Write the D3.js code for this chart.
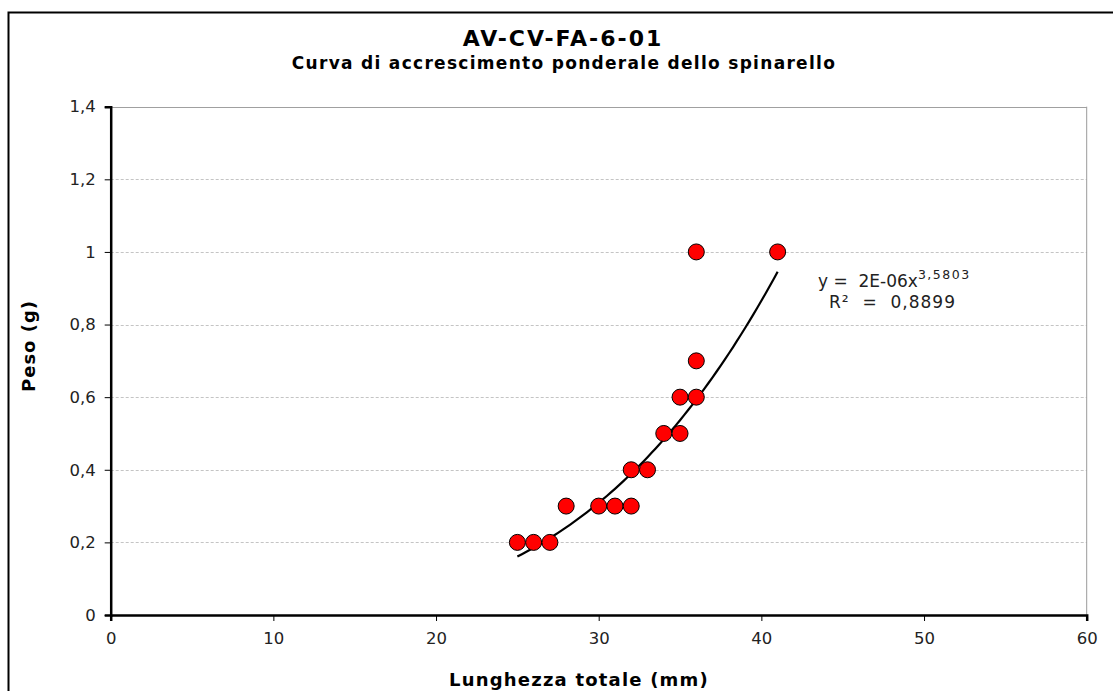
<!DOCTYPE html>
<html>
<head>
<meta charset="utf-8">
<script src="https://cdn.jsdelivr.net/npm/d3@7"></script>
<style>
  body { margin: 0; background: #fff; }
  svg { display: block; font-family: "DejaVu Sans", Verdana, sans-serif; }
</style>
</head>
<body>
<svg width="1113" height="691"></svg>
<script>
// lunghezza totale (mm) e peso (g) dei pesci misurati
const lunghezza = [25, 26, 27, 28, 30, 31, 32, 32, 33, 34, 35, 35, 36, 36, 36, 41];
const peso      = [0.2, 0.2, 0.2, 0.3, 0.3, 0.3, 0.3, 0.4, 0.4, 0.5, 0.5, 0.6, 0.6, 0.7, 1.0, 1.0];
const xTicks = [0, 10, 20, 30, 40, 50, 60];
const yTicks = [0, 0.2, 0.4, 0.6, 0.8, 1, 1.2, 1.4];
// linea di tendenza di tipo potenza (coefficiente non arrotondato)
const trendA = 1.59e-6, trendB = 3.5803;
const trendRange = [25, 41];

const svg = d3.select("svg");
const m = { left: 110.7, right: 1086.7, top: 106.7, bottom: 615 };

const x = d3.scaleLinear().domain([0, 60]).range([m.left, m.right]);
const y = d3.scaleLinear().domain([0, 1.4]).range([m.bottom, m.top]);
const fmt = d => String(d).replace(".", ",");

// cornice esterna (tagliata a destra e in basso)
svg.append("rect")
  .attr("x", 8.5).attr("y", 12.5)
  .attr("width", 1200).attr("height", 800)
  .attr("fill", "none").attr("stroke", "#000").attr("stroke-width", 2);

// griglia
svg.append("g").selectAll("line")
  .data(yTicks.filter(d => d > 0))
  .join("line")
  .attr("x1", m.left).attr("x2", m.right)
  .attr("y1", d => Math.round(y(d)) + 0.5).attr("y2", d => Math.round(y(d)) + 0.5)
  .attr("stroke", d => d === 1.4 ? "#a0a0a0" : "#c4c4c4")
  .attr("stroke-dasharray", d => d === 1.4 ? null : "3,2");
svg.append("line")
  .attr("x1", m.right).attr("x2", m.right)
  .attr("y1", m.top).attr("y2", m.bottom)
  .attr("stroke", "#9a9a9a");

// assi
const yAxis = svg.append("g")
  .attr("transform", `translate(${m.left},0)`)
  .call(d3.axisLeft(y).tickValues(yTicks).tickFormat(fmt).tickSize(6).tickPadding(9));
const xAxis = svg.append("g")
  .attr("transform", `translate(0,${m.bottom})`)
  .call(d3.axisBottom(x).tickValues(xTicks).tickSize(6).tickPadding(11));
[yAxis, xAxis].forEach(a => {
  a.attr("font-size", 16.5).attr("font-family", "DejaVu Sans, Verdana, sans-serif");
  a.select(".domain").attr("stroke-width", 2.5);
  a.selectAll("text").attr("fill", "#222");
});

// curva di tendenza
const curve = d3.range(trendRange[0], trendRange[1] + 0.01, 0.25);
svg.append("path")
  .datum(curve)
  .attr("fill", "none").attr("stroke", "#000").attr("stroke-width", 2.2)
  .attr("d", d3.line().x(d => x(d)).y(d => y(trendA * Math.pow(d, trendB))));

// punti
svg.append("g").selectAll("circle")
  .data(lunghezza.map((l, i) => [l, peso[i]]))
  .join("circle")
  .attr("cx", d => x(d[0])).attr("cy", d => y(d[1]))
  .attr("r", 8)
  .attr("fill", "#ff0000").attr("stroke", "#000").attr("stroke-width", 1);

// equazione
const eq = svg.append("text").attr("x", 818).attr("y", 287).attr("font-size", 17)
  .attr("fill", "#222").attr("xml:space", "preserve");
eq.append("tspan").text("y =  2E-06x");
eq.append("tspan").attr("dy", -8).attr("font-size", 12.5).attr("letter-spacing", 1.5).text("3,5803");
svg.append("text").attr("x", 829).attr("y", 308).attr("font-size", 17).attr("fill", "#222")
  .attr("xml:space", "preserve").attr("letter-spacing", 1).text("R²  =  0,8899");

// titoli
svg.append("text").attr("x", 563).attr("y", 46).attr("text-anchor", "middle")
  .attr("font-size", 22).attr("letter-spacing", 2).attr("font-weight", "bold").text("AV-CV-FA-6-01");
svg.append("text").attr("x", 564).attr("y", 69).attr("text-anchor", "middle")
  .attr("font-size", 17).attr("letter-spacing", 1.3).attr("font-weight", "bold")
  .text("Curva di accrescimento ponderale dello spinarello");
svg.append("text").attr("x", 579).attr("y", 686).attr("text-anchor", "middle")
  .attr("font-size", 18).attr("letter-spacing", 1.2).attr("font-weight", "bold").text("Lunghezza totale (mm)");
svg.append("text").attr("transform", "translate(35,392) rotate(-90)").attr("text-anchor", "start")
  .attr("font-size", 18).attr("letter-spacing", 1).attr("font-weight", "bold").text("Peso (g)");
</script>
</body>
</html>
